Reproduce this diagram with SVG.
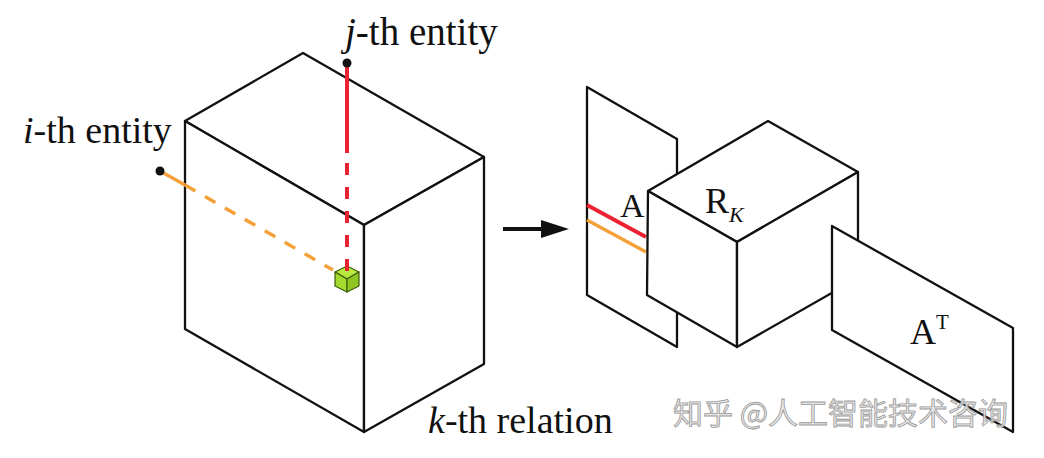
<svg xmlns="http://www.w3.org/2000/svg" width="1044" height="458" viewBox="0 0 1044 458">
<defs>
<style>
.edge{fill:#fff;stroke:#111;stroke-width:2.3;stroke-linejoin:round}
.lbl{font-family:"Liberation Serif","Times New Roman",serif;fill:#111}
.red{stroke:#ec2233;stroke-width:4;fill:none}
.org{stroke:#f5a13a;stroke-width:3.5;fill:none}
.wm{font-family:"Noto Sans CJK SC","Noto Sans",sans-serif;font-size:30px;fill:#e4e4e4;stroke:#8e8e8e;stroke-width:0.8}
</style>
</defs>
<rect width="1044" height="458" fill="#fff"/>

<g id="tensor-cube">
<polygon class="edge" points="303,53 484,157 364,225 185,121"/>
<polygon class="edge" points="185,121 364,225 364,432 185,329"/>
<polygon class="edge" points="364,225 484,157 484,364 364,432"/>
</g>

<g id="entity-lines">
<line class="org" x1="160" y1="171" x2="185" y2="185"/>
<line class="org" x1="185" y1="185" x2="333" y2="270" stroke-dasharray="12 11"/>
<circle cx="160" cy="171" r="4.5" fill="#111"/>
<g id="element-cube" stroke="#3d5c0a" stroke-width="1.2" stroke-linejoin="round">
<polygon points="347,266 359,272 347,279 335,272" fill="#b8e83e"/>
<polygon points="335,272 347,279 347,292 335,286" fill="#a4da30"/>
<polygon points="347,279 359,272 359,286 347,292" fill="#90c622"/>
</g>
<line class="red" x1="347" y1="63" x2="347" y2="153"/>
<line class="red" x1="347" y1="163" x2="347" y2="271" stroke-dasharray="12 12"/>
<circle cx="347" cy="63" r="4.5" fill="#111"/>
</g>

<g id="labels-left">
<text class="lbl" x="345" y="45" font-size="39"><tspan font-style="italic">j</tspan>-th entity</text>
<text class="lbl" x="23" y="143" font-size="38"><tspan font-style="italic">i</tspan>-th entity</text>
<text class="lbl" x="428" y="433" font-size="38"><tspan font-style="italic">k</tspan>-th relation</text>
</g>

<g id="connectors">
<line x1="503" y1="229" x2="545" y2="229" stroke="#111" stroke-width="4"/>
<polygon points="541,220 569,229 541,238" fill="#111"/>
</g>

<g id="slab-A">
<polygon class="edge" points="587,87 677,139 677,347 587,295"/>
<path d="M587,205 L646,237" class="red" stroke-width="3"/>
<path d="M587,220 L646,252" class="org" stroke-width="3"/>
<text class="lbl" x="620" y="217" font-size="34">A</text>
</g>

<g id="cube-RK">
<polygon class="edge" points="648,191 768,121 858,172 737,242"/>
<polygon class="edge" points="648,191 737,242 737,347 647,295"/>
<polygon class="edge" points="737,242 858,172 858,278 737,347"/>
<text class="lbl" x="705" y="213" font-size="36">R<tspan font-style="italic" font-size="22" dy="9">K</tspan></text>
</g>

<g id="slab-AT">
<polygon class="edge" points="832,226 1013,328 1013,432 832,330"/>
<text class="lbl" x="910" y="344" font-size="36">A<tspan font-size="21" dy="-15">T</tspan></text>
</g>

<text class="wm" x="673" y="424" opacity="0.9">知乎 @人工智能技术咨询</text>
</svg>
